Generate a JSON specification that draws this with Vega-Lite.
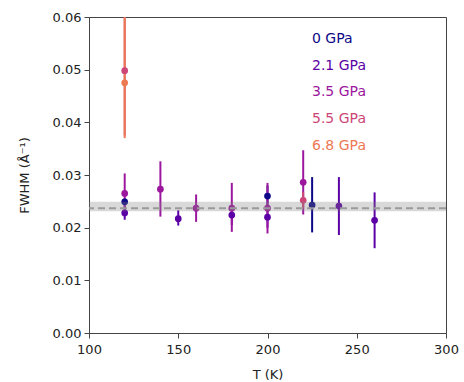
{
  "$schema": "https://vega.github.io/schema/vega-lite/v6.json",
  "width": 357,
  "height": 316,
  "autosize": "none",
  "padding": {"left": 89, "top": 17, "right": 18, "bottom": 49},
  "background": "white",
  "config": {
    "font": "DejaVu Sans",
    "view": {"stroke": "#444", "strokeWidth": 1},
    "axis": {
      "grid": false,
      "domainColor": "#444",
      "tickColor": "#444",
      "labelColor": "#222",
      "titleColor": "#222",
      "labelFontSize": 13,
      "titleFontSize": 13,
      "titleFontWeight": "normal",
      "tickSize": 5,
      "labelFlush": false,
      "labelFont": "DejaVu Sans",
      "titleFont": "DejaVu Sans"
    }
  },
  "datasets": {
    "pts": [
      {"T": 120, "FWHM": 0.0249, "lo": 0.0242, "hi": 0.0256, "P": "0 GPa"},
      {"T": 200, "FWHM": 0.0260, "lo": 0.0240, "hi": 0.0280, "P": "0 GPa"},
      {"T": 225, "FWHM": 0.0243, "lo": 0.0191, "hi": 0.0296, "P": "0 GPa"},
      {"T": 120, "FWHM": 0.0228, "lo": 0.0215, "hi": 0.0241, "P": "2.1 GPa"},
      {"T": 150, "FWHM": 0.0217, "lo": 0.0204, "hi": 0.0233, "P": "2.1 GPa"},
      {"T": 180, "FWHM": 0.0224, "lo": 0.0205, "hi": 0.0243, "P": "2.1 GPa"},
      {"T": 200, "FWHM": 0.0220, "lo": 0.0200, "hi": 0.0240, "P": "2.1 GPa"},
      {"T": 240, "FWHM": 0.0241, "lo": 0.0186, "hi": 0.0296, "P": "2.1 GPa"},
      {"T": 260, "FWHM": 0.0214, "lo": 0.0161, "hi": 0.0267, "P": "2.1 GPa"},
      {"T": 120, "FWHM": 0.0265, "lo": 0.0228, "hi": 0.0303, "P": "3.5 GPa"},
      {"T": 140, "FWHM": 0.0273, "lo": 0.0221, "hi": 0.0326, "P": "3.5 GPa"},
      {"T": 160, "FWHM": 0.0237, "lo": 0.0211, "hi": 0.0263, "P": "3.5 GPa"},
      {"T": 180, "FWHM": 0.0237, "lo": 0.0192, "hi": 0.0285, "P": "3.5 GPa"},
      {"T": 200, "FWHM": 0.0237, "lo": 0.0189, "hi": 0.0285, "P": "3.5 GPa"},
      {"T": 220, "FWHM": 0.0286, "lo": 0.0225, "hi": 0.0347, "P": "3.5 GPa"},
      {"T": 120, "FWHM": 0.0498, "lo": 0.0375, "hi": 0.0620, "P": "5.5 GPa"},
      {"T": 220, "FWHM": 0.0252, "lo": 0.0236, "hi": 0.0268, "P": "5.5 GPa"},
      {"T": 120, "FWHM": 0.0475, "lo": 0.0370, "hi": 0.0620, "P": "6.8 GPa"}
    ],
    "band": [{"lo": 0.0231, "hi": 0.0249, "mid": 0.0237}]
  },
  "encoding": {
    "x": {
      "field": "T", "type": "quantitative",
      "scale": {"domain": [100, 300], "nice": false, "zero": false},
      "axis": {"values": [100, 150, 200, 250, 300], "title": "T (K)", "labelPadding": 5, "titlePadding": 12}
    },
    "color": {
      "field": "P", "type": "nominal",
      "scale": {
        "domain": ["0 GPa", "2.1 GPa", "3.5 GPa", "5.5 GPa", "6.8 GPa"],
        "range": ["#0d0887", "#5c01a6", "#9c179e", "#cc4778", "#ed7953"]
      },
      "legend": {
        "title": null,
        "orient": "none",
        "legendX": 209,
        "legendY": 15,
        "padding": 0,
        "symbolSize": 0,
        "symbolOpacity": 0,
        "symbolStrokeWidth": 0,
        "labelOffset": 0,
        "labelFontSize": 14,
        "labelFont": "DejaVu Sans",
        "rowPadding": 12.7,
        "labelColor": {"expr": "scale('color', datum.value)"}
      }
    }
  },
  "layer": [
    {
      "data": {"name": "pts"},
      "mark": {"type": "rule", "strokeWidth": 2, "clip": true},
      "encoding": {
        "y": {"field": "lo", "type": "quantitative", "scale": {"domain": [0, 0.06], "nice": false}},
        "y2": {"field": "hi"}
      }
    },
    {
      "data": {"name": "pts"},
      "mark": {"type": "circle", "size": 45, "opacity": 1, "clip": true},
      "encoding": {
        "y": {
          "field": "FWHM", "type": "quantitative",
          "scale": {"domain": [0, 0.06], "nice": false},
          "axis": {"values": [0, 0.01, 0.02, 0.03, 0.04, 0.05, 0.06], "format": ".2f", "title": "FWHM (Å⁻¹)", "labelPadding": 3, "titlePadding": 21}
        }
      }
    },
    {
      "data": {"name": "band"},
      "mark": {"type": "rect", "color": "#808080", "opacity": 0.3},
      "encoding": {
        "x": null,
        "color": null,
        "y": {"field": "lo", "type": "quantitative"},
        "y2": {"field": "hi"}
      }
    },
    {
      "data": {"name": "band"},
      "mark": {"type": "rule", "color": "#9a9a9a", "strokeWidth": 2, "strokeDash": [7, 4]},
      "encoding": {
        "x": null,
        "color": null,
        "y": {"field": "mid", "type": "quantitative"}
      }
    }
  ]
}
